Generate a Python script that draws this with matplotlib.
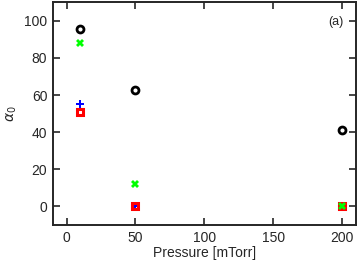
import matplotlib
matplotlib.use('Agg')
from matplotlib import pyplot as plt

plt.rcParams['font.family'] = ['Liberation Sans', 'DejaVu Sans']

# Data
p_circle = [10, 50, 200]
a_circle = [95.8, 62.5, 41]
p_cross = [10, 50, 200]
a_cross = [88, 12, 0]
p_plus = [10, 50]
a_plus = [55, 0]
p_square = [10, 50, 200]
a_square = [51, 0, 0]

fig = plt.figure(figsize=(3.57, 2.66), dpi=100)
ax = fig.add_axes([0.148, 0.154, 0.849, 0.838])

ax.plot(p_plus, a_plus, 'P', color='blue', ms=5.5, mew=0, ls='none')
ax.plot(p_square, a_square, 's', mfc='none', mec='red', ms=4, mew=2.2, ls='none')
ax.plot(p_cross, a_cross, 'X', color='#00ff00', ms=5.5, mew=0, ls='none')
ax.plot(p_circle, a_circle, 'o', mfc='none', mec='black', ms=5, mew=2.0, ls='none')

ax.set_xlim(-10, 210)
ax.set_ylim(-10, 110)
ax.set_xticks([0, 50, 100, 150, 200])
ax.set_yticks([0, 20, 40, 60, 80, 100])
ax.tick_params(direction='in', length=5, width=1.2, top=True, right=True,
               labelsize=10, colors='#262626', pad=4)
for s in ax.spines.values():
    s.set_linewidth(1.4)
    s.set_color('#262626')
ax.set_xlabel('Pressure [mTorr]', fontsize=10, color='#262626', labelpad=1)
ax.set_ylabel(r'$\alpha_0$', fontsize=10, color='#262626', labelpad=4)
ax.text(0.96, 0.91, '(a)', transform=ax.transAxes, ha='right', va='center',
        fontsize=9, color='#262626')

plt.savefig('out.png', dpi=100)
